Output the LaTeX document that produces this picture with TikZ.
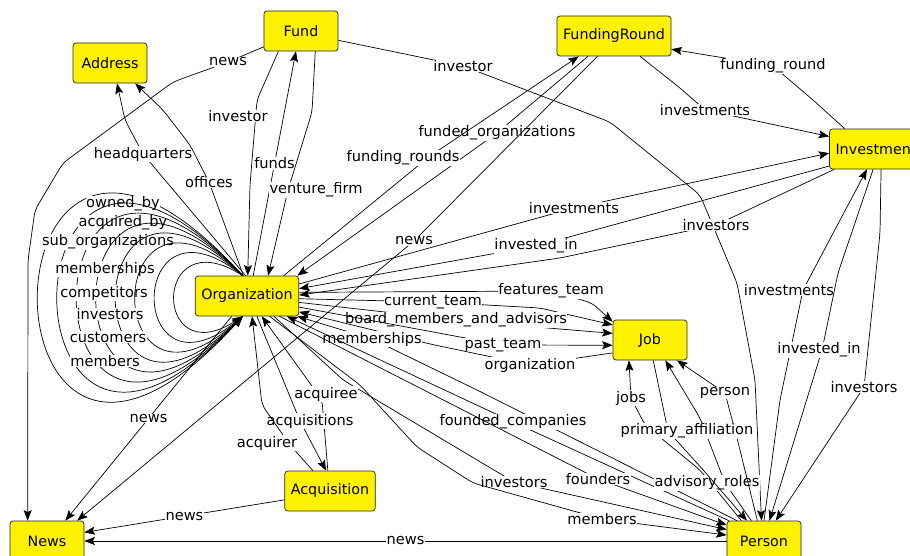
\documentclass[tikz,border=0pt]{standalone}
\usepackage{fontspec}
\setmainfont{DejaVu Sans}
\usetikzlibrary{arrows.meta}
\newcommand\dfont{\fontsize{14.3}{16}\selectfont}
\newcommand\lfont{\fontsize{14.6}{16}\selectfont}
\tikzset{
  entity/.style={rectangle, rounded corners=3pt, draw=black!85, fill=yellow, line width=0.7pt,
    minimum width=74pt, minimum height=40pt, inner xsep=6pt, font=\dfont},
  rel/.style={draw=black, line width=0.7pt, rounded corners=6pt, -{Stealth[length=10.5pt,width=8pt,inset=2pt]}},
  lbl/.style={fill=white, inner sep=0.5pt, rounded corners=0pt, font=\lfont}
}
\begin{document}
\begin{tikzpicture}[x=1pt,y=-1pt]
\useasboundingbox (0,0) rectangle (910,556);
\node[entity] (addr) at (110,63) {Address};
\node[entity] (fund) at (301,31) {Fund};
\node[entity] (fround) at (614,36) {FundingRound};
\node[entity] (inv) at (876,149) {Investment};
\node[entity] (org) at (247,296) {Organization};
\node[entity] (job) at (650,340) {Job};
\node[entity] (acq) at (330,491) {Acquisition};
\node[entity] (news) at (47,541) {News};
\node[entity] (person) at (764,541) {Person};

\draw[rel] (fund) -- (228,62) node[lbl] (lnf) {news} -- (173,82) -- (63,163) -- (35,210) -- (28,260) -- ([xshift=18pt]news.north west);
\draw[rel] (fund.222) -- (257,100) -- (250,185) -- (org.88) node[lbl] (lfi) at (238,116) {investor};
\draw[rel] (org.73) -- node[lbl,pos=.5] (lfu) {funds} (fund.256);
\draw[rel] (fund.305) -- (312,112) -- (288,190) -- (org.44) node[lbl] (lvf) at (316,190) {venture\_firm};
\draw[rel] (fund.346) -- (463,66) node[lbl] (lfp) {investor} -- (610,122) -- (700,195) -- (737,283) -- (755,380) -- (person.97);

\draw[rel] (org.94) -- (143,154) node[lbl] (lhq) {headquarters} -- (125,120) -- (addr.289);
\draw[rel] (org.100) -- (209,182) node[lbl] (lof) {offices} -- (190,145) -- (163,110) -- (addr.321);

\foreach \a/\b/\lx/\ly/\txt in {273/302/123/204/owned\_by, 247/267/123/223/acquired\_by,
  221/232/108/242/sub\_organizations, 195/197/105/269/memberships, 169/163/104/293/competitors,
  143/128/110/314/investors, 117/94/108/337/customers, 91/59/105/361/members}
  \draw[rel] (org.102) .. controls +(-\a,-\b) and +(-\a,\b) .. (org.258) node[lbl] (lp\a) at (\lx,\ly) {\txt};

\draw[rel] (fround.218) -- (497,133) node[lbl] (lfo) {funded\_organizations} -- (org.22);
\draw[rel] (org.29) -- (430,156) -- (fround.210) node[lbl] (lfr) at (403,158) {funding\_rounds};
\draw[rel] (fround.231) -- (414,241) node[lbl] (lnr) {news} -- (news.34);
\draw[rel] (inv.147) -- (813,100) -- (773,66) node[lbl] (lfro) {funding\_round} -- (fround.347);
\draw[rel] (fround.322) -- (680,88) -- (705,110) node[lbl] (lri) {investments} -- (inv.165);

\draw[rel] (org.13) -- (574,208) node[lbl] (loi) {investments} -- (inv.185);
\draw[rel] (inv.200) -- (536,246) node[lbl] (lio) {invested\_in} -- (org.8);
\draw[rel] (inv.206) -- (716,225) node[lbl] (lvo) {investors} -- (560,258) -- (org.1);

\draw[rel] (org.4) -- (551,291) node[lbl] (lft) {features\_team} -- (592,303) -- (job.154);
\draw[rel] (org.357) -- (433,302) node[lbl] (lct) {current\_team} -- (540,308) -- (job.158);
\draw[rel] (org.353) -- (456,320) node[lbl] (lbm) {board\_members\_and\_advisors} -- (548,328) -- (job.170);
\draw[rel] (org.348) -- (503,345) node[lbl] (lpt) {past\_team} -- (job.188);
\draw[rel] (job.199) -- (530,365) node[lbl] (ljo) {organization} -- (430,344) -- (org.343);

\draw[rel] (person.143) -- (477,390) -- (372,339) node[lbl] (lmo) {memberships} -- (org.338);
\draw[rel] (person.150) -- (513,422) node[lbl] (lfc) {founded\_companies} -- (org.333);
\draw[rel] (org.328) -- (598,479) node[lbl] (lfd) {founders} -- (person.157);
\draw[rel] (org.323) -- (343,380) -- (514,482) node[lbl] (lpi) {investors} -- (person.163);
\draw[rel] (org.318) -- (360,385) -- (417,447) -- (473,483) -- (602,519) node[lbl] (lme) {members} -- (person.171);

\draw[rel] (acq.96) -- (322,400) -- (org.306) node[lbl] (lae) at (326,394) {acquiree};
\draw[rel] (org.296) -- (300,421) -- (acq.101) node[lbl] (las) at (310,421) {acquisitions};
\draw[rel] (acq.130) -- (290,445) -- (262,405) -- (org.284) node[lbl] (lar) at (267,443) {acquirer};

\draw[rel] (org.233) -- node[lbl,pos=.5] (lno) {news} (news.48);
\draw[rel] (acq.191) -- node[lbl,pos=.5] (lna) {news} (news.13);
\draw[rel] (person.180) -- node[lbl,pos=.5] (lnp) {news} (news.0);

\draw[rel] (person.138) -- (700,470) -- (645,425) -- (631,398) node[lbl] (ljb) {jobs} -- (job.224);
\draw[rel] (person.122) -- (725,483) -- (700,418) -- (job.307) node[lbl] (lad) at (707,483) {advisory\_roles};
\draw[rel] (person.108) -- (738,442) -- (725,393) node[lbl] (lps) {person} -- (job.323);
\draw[rel] (job.279) -- (668,431) -- (705,472) -- (person.130) node[lbl] (lpa) at (687,431) {primary\_affiliation};

\draw[rel] (person.90) -- (780,400) -- (803,290) -- (inv.246) node[lbl] (lpv) at (789,290) {investments};
\draw[rel] (inv.262) -- (838,273) -- (822,350) -- (person.75) node[lbl] (lvp) at (819,350) {invested\_in};
\draw[rel] (inv.284) -- (880,233) -- (870,330) -- (864,387) node[lbl] (lvs) {investors} -- (person.60);
\end{tikzpicture}
\end{document}
